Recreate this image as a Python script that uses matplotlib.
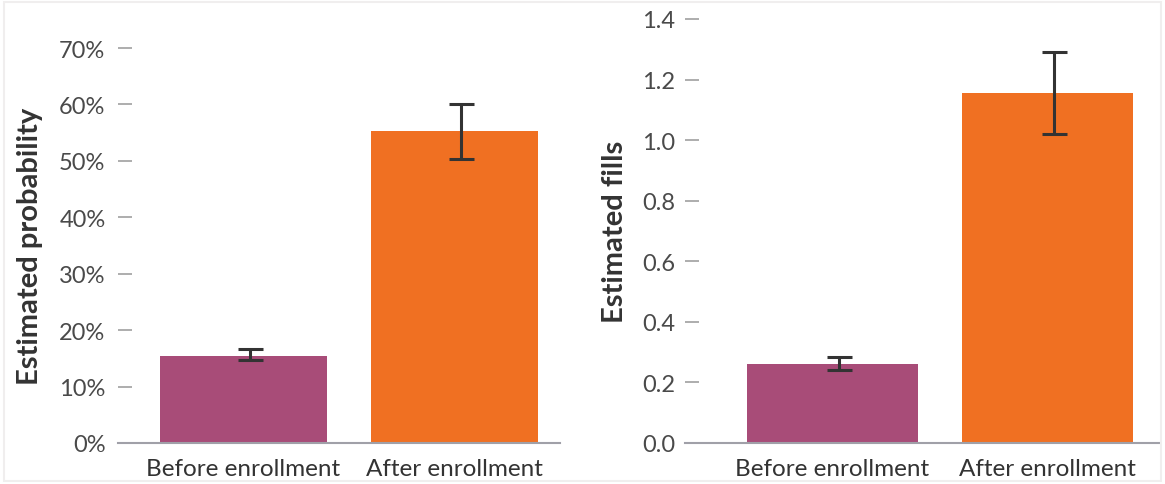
import numpy as np
import matplotlib.pyplot as plt
from matplotlib.ticker import PercentFormatter
from matplotlib.patches import Rectangle

plt.rcParams['font.family'] = ['Lato', 'DejaVu Sans']

categories = ['Before enrollment', 'After enrollment']

# panel 1: estimated probability
prob = [0.155, 0.553]
prob_lo = [0.147, 0.504]
prob_hi = [0.166, 0.600]

# panel 2: estimated fills
fills = [0.261, 1.156]
fills_lo = [0.241, 1.020]
fills_hi = [0.284, 1.291]

colors = ['#A84C78', '#F07022']
W, H = 1165, 485

fig = plt.figure(figsize=(W/100, H/100), dpi=100)
fig.add_artist(Rectangle((4/W, 3/H), 1-8/W, 1-6/H, transform=fig.transFigure,
                         fill=False, edgecolor='#f0eeee', linewidth=1.5))

ax1 = fig.add_axes([118/W, 1-444/H, 442/W, (444-49)/H])
ax2 = fig.add_axes([685/W, 1-444/H, 475/W, (444-20)/H])


def panel(ax, vals, lo, hi, ymax, step, width, xl, ylabel, lab_x, pad):
    x = np.arange(len(vals))
    vals = np.array(vals)
    err = [vals - np.array(lo), np.array(hi) - vals]
    ax.bar(x, vals, width=width, color=colors, zorder=2)
    ax.errorbar(x + 0.03, vals, yerr=err, fmt='none', ecolor='#333333',
                elinewidth=2.2, capsize=9, capthick=2.2, zorder=3)
    ax.set_xlim(*xl)
    ax.set_ylim(0, ymax)
    ax.set_yticks(np.arange(0, ymax + step/2, step))
    ax.set_xticks(x)
    ax.set_xticklabels(categories)
    for s in ['top', 'right', 'left']:
        ax.spines[s].set_visible(False)
    ax.spines['bottom'].set_color('#a0a0a8')
    ax.spines['bottom'].set_linewidth(1.5)
    ax.tick_params(axis='y', direction='in', length=10, width=1.2, color='#a0a0a0',
                   labelsize=17, labelcolor='#4a4a4a', pad=pad)
    ax.tick_params(axis='x', length=0, labelsize=17.5, labelcolor='#333333', pad=11)
    ax.set_ylabel(ylabel, fontsize=21, fontweight='bold', color='#333333')
    ax.yaxis.set_label_coords(lab_x, 0.5)
    ax.patch.set_alpha(0)


panel(ax1, prob, prob_lo, prob_hi, 0.7, 0.1, 0.79, (-0.595, 1.5),
      'Estimated probability', -0.17, 9)
ax1.yaxis.set_major_formatter(PercentFormatter(1.0, decimals=0))

panel(ax2, fills, fills_lo, fills_hi, 1.4, 0.2, 0.795, (-0.686, 1.523),
      'Estimated fills', -0.12, 7)
ax2.yaxis.set_major_formatter(plt.FuncFormatter(lambda v, p: f'{v:.1f}'))

fig.savefig('out.png', dpi=100)
